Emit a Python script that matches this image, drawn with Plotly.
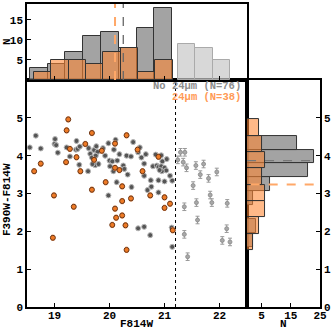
import numpy as np
import plotly.graph_objects as go

# dark gray: no 24um, F814W < 21.2  (N=76)
no24_mag = [18.55, 18.66, 18.75,
            19.01, 19.00, 19.03, 19.06,
            19.22, 19.28, 19.40, 19.39, 19.42, 19.46, 19.45,
            19.61, 19.62, 19.65, 19.68, 19.72, 19.76, 19.78, 19.75, 19.74, 19.80, 19.69,
            19.98, 19.92, 20.00, 20.05, 20.01, 20.07, 20.08, 20.11, 19.98, 20.14, 19.88, 20.13,
            20.18, 20.25, 20.27, 20.31, 20.39, 20.43, 20.33, 20.40,
            20.52, 20.55, 20.66, 20.63, 20.63, 20.75, 20.76, 20.69, 20.79, 20.52, 20.63, 20.74, 20.58,
            20.84, 20.94, 21.04, 20.96, 20.86, 20.89, 20.94, 21.00, 21.03, 20.95, 20.89, 21.00,
            21.10, 21.14, 20.89, 21.13, 21.14, 20.91]
no24_col = [4.22, 4.53, 4.19,
            4.44, 4.31, 4.28, 4.08,
            4.22, 3.98, 4.39, 4.16, 4.18, 4.24, 3.76,
            3.59, 4.20, 4.05, 3.95, 4.15, 4.25, 4.10, 4.00, 3.75, 3.78, 3.78,
            4.33, 4.00, 3.87, 3.85, 3.72, 3.59, 4.16, 4.42, 2.95, 3.87, 4.20, 3.30,
            4.04, 3.74, 3.65, 4.00, 3.98, 4.36, 3.50, 3.17,
            4.09, 4.22, 4.04, 3.79, 3.47, 3.35, 3.18, 3.09, 3.72, 2.08, 2.12, 1.90, 3.95,
            4.03, 4.01, 3.91, 3.85, 3.74, 3.70, 3.72, 3.68, 3.61, 3.59, 3.35, 3.32,
            3.47, 3.34, 3.03, 2.10, 1.59, 3.62]

# light gray: faint sources beyond the cut
faint_mag = [21.24, 21.29, 21.37, 21.34, 21.40, 21.52, 21.36, 21.36, 21.42,
             21.57, 21.71, 21.65, 21.83, 21.86, 21.58, 21.60, 21.80,
             21.95, 22.14, 22.13, 22.05, 22.19]
faint_col = [3.89, 4.09, 4.09, 3.83, 3.68, 3.21, 2.65, 1.92, 1.33,
             3.74, 3.78, 3.50, 2.96, 2.76, 2.76, 2.30, 3.40,
             3.57, 2.74, 2.07, 1.76, 1.72]

# orange: 24um detected (N=38)
mips_mag = [19.25, 19.22, 19.68, 19.56, 19.28, 19.40, 19.21, 18.75, 18.63, 19.47,
            19.86, 19.72, 20.10, 20.31, 20.10, 19.93, 20.23, 19.68, 18.99, 20.23,
            20.39, 19.35, 20.10, 20.23, 20.12, 20.51, 20.60, 20.89, 20.74, 21.00,
            21.00, 21.10, 20.29, 20.31, 21.15, 18.97, 20.05, 20.18]
mips_col = [4.96, 4.67, 4.60, 4.31, 4.18, 3.96, 3.83, 3.79, 3.59, 3.59,
            4.13, 3.89, 4.32, 4.54, 3.68, 3.30, 3.19, 3.10, 2.95, 2.80,
            2.87, 2.65, 2.60, 2.42, 2.36, 4.16, 3.59, 3.97, 2.95, 2.90,
            2.62, 2.73, 2.16, 1.51, 2.03, 1.83, 2.17, 3.62]

mag_cut = 21.2
med_mag_no24, med_mag_24 = 20.25, 20.10
med_col_no24, med_col_24 = 3.87, 3.24

FONT = "Liberation Mono"
GRAY_BAR = "rgba(140,140,140,0.8)"
ORANGE_BAR = "rgba(255,135,50,0.58)"


def hist(vals, nb):
    counts, edges = np.histogram(vals, bins=nb)
    return counts, edges[:-1], np.diff(edges)


fig = go.Figure()

# ---- top histogram (F814W) ----
c, e, w = hist(no24_mag, 8)
fig.add_trace(go.Bar(x=e, y=c, width=w, offset=0, marker=dict(color=GRAY_BAR, line=dict(color="#333", width=1)),
                     xaxis="x2", yaxis="y2"))
c, e, w = hist(mips_mag, 8)
fig.add_trace(go.Bar(x=e, y=c, width=w, offset=0, marker=dict(color=ORANGE_BAR, line=dict(color="#333", width=1)),
                     xaxis="x2", yaxis="y2"))
c, e, w = hist(faint_mag, 3)
fig.add_trace(go.Bar(x=e, y=c, width=w, offset=0, marker=dict(color="rgba(200,200,200,0.7)", line=dict(color="#aaa", width=1)),
                     xaxis="x2", yaxis="y2"))

# ---- right histogram (colour) ----
c, e, w = hist(no24_col, 8)
fig.add_trace(go.Bar(y=e, x=c, width=w, offset=0, orientation="h",
                     marker=dict(color=GRAY_BAR, line=dict(color="#333", width=1)), xaxis="x3", yaxis="y3"))
c, e, w = hist(mips_col, 8)
fig.add_trace(go.Bar(y=e, x=c, width=w, offset=0, orientation="h",
                     marker=dict(color=ORANGE_BAR, line=dict(color="#333", width=1)), xaxis="x3", yaxis="y3"))

# ---- main scatter ----
fig.add_trace(go.Scatter(x=faint_mag, y=faint_col, mode="markers",
                         error_y=dict(type="constant", value=0.1, color="#999", thickness=1, width=2),
                         marker=dict(size=4, color="#a8a8a8", line=dict(color="#888", width=0.8))))
fig.add_trace(go.Scatter(x=no24_mag, y=no24_col, mode="markers",
                         error_y=dict(type="constant", value=0.05, color="#aaa", thickness=1, width=1.5),
                         marker=dict(size=5, color="#555", line=dict(color="#bbb", width=1))))
fig.add_trace(go.Scatter(x=mips_mag, y=mips_col, mode="markers",
                         error_y=dict(type="constant", value=0.07, color="#f7b080", thickness=1, width=1.5),
                         marker=dict(size=5, color="#ee7a25", line=dict(color="#6b3515", width=1))))

shapes = [
    dict(type="line", xref="x", yref="y domain", x0=mag_cut, x1=mag_cut, y0=0, y1=1,
         line=dict(color="black", width=1, dash="dot")),
    dict(type="line", xref="x2", yref="y2 domain", x0=med_mag_24, x1=med_mag_24, y0=0, y1=1,
         line=dict(color="#ffa868", width=2, dash="dash")),
    dict(type="line", xref="x2", yref="y2 domain", x0=med_mag_no24, x1=med_mag_no24, y0=0, y1=1,
         line=dict(color="#666", width=1.3, dash="dash")),
    dict(type="line", xref="x3 domain", yref="y3", x0=0, x1=0.9, y0=med_col_no24, y1=med_col_no24,
         line=dict(color="#777", width=1.3, dash="dash")),
    dict(type="line", xref="x3 domain", yref="y3", x0=0.05, x1=0.95, y0=med_col_24, y1=med_col_24,
         line=dict(color="#ffa868", width=2, dash="dash")),
]

tf = dict(family=FONT, size=11, color="black", weight="bold")
ax = dict(showline=True, linecolor="black", linewidth=1.5, mirror=True, ticks="inside", automargin=False,
          ticklen=4, tickcolor="black", tickfont=tf, showgrid=False, zeroline=False)

fig.update_layout(
    width=332, height=331, margin=dict(l=27, r=12, t=4, b=24, autoexpand=False),
    plot_bgcolor="white", paper_bgcolor="white", showlegend=False,
    barmode="overlay", bargap=0,
    xaxis=dict(ax, domain=[0, 0.751], range=[18.5, 22.5], tickvals=[19, 20, 21, 22], anchor="y",
               ticklabelstandoff=-3),
    yaxis=dict(ax, domain=[0, 0.749], range=[0, 6], tickvals=[0, 1, 2, 3, 4, 5], anchor="x"),
    xaxis2=dict(ax, domain=[0, 0.751], range=[18.5, 22.5], tickvals=[19, 20, 21, 22], showticklabels=False, anchor="y2"),
    yaxis2=dict(ax, domain=[0.749, 1], range=[0, 18.9], tickvals=[5, 10, 15], anchor="x2"),
    xaxis3=dict(ax, domain=[0.751, 1], range=[0, 25], tickvals=[5, 15, 25], anchor="y3",
                ticklabelstandoff=-3),
    yaxis3=dict(ax, domain=[0, 0.749], range=[0, 6], tickvals=[0, 1, 2, 3, 4, 5], side="right", anchor="x3"),
    shapes=shapes,
)

lab = dict(family=FONT, size=11, color="black", weight="bold")
mid = dict(xanchor="center", yanchor="middle", showarrow=False, font=lab, xref="paper", yref="paper")
fig.add_annotation(text="F814W", x=0.375, y=-0.056, **mid)
fig.add_annotation(text="N", x=0.874, y=-0.056, **mid)
fig.add_annotation(text="N", x=-0.068, y=0.875, textangle=-90, **mid)
fig.add_annotation(text="F390W-F814W", x=-0.068, y=0.353, textangle=-90, **mid)
fig.add_annotation(text="No 24\u03bcm (N=76)", xref="x", yref="y", x=22.42, y=5.85, xanchor="right",
                   showarrow=False, font=dict(family=FONT, size=10.5, color="#8c8c8c", weight="bold"))
fig.add_annotation(text="24\u03bcm (N=38)", xref="x", yref="y", x=22.42, y=5.55, xanchor="right",
                   showarrow=False, font=dict(family=FONT, size=10.5, color="#ff9a55", weight="bold"))

fig.write_html("out.html", config={"displayModeBar": False},
               post_script="document.body.style.margin='0';document.body.style.overflow='hidden';")
